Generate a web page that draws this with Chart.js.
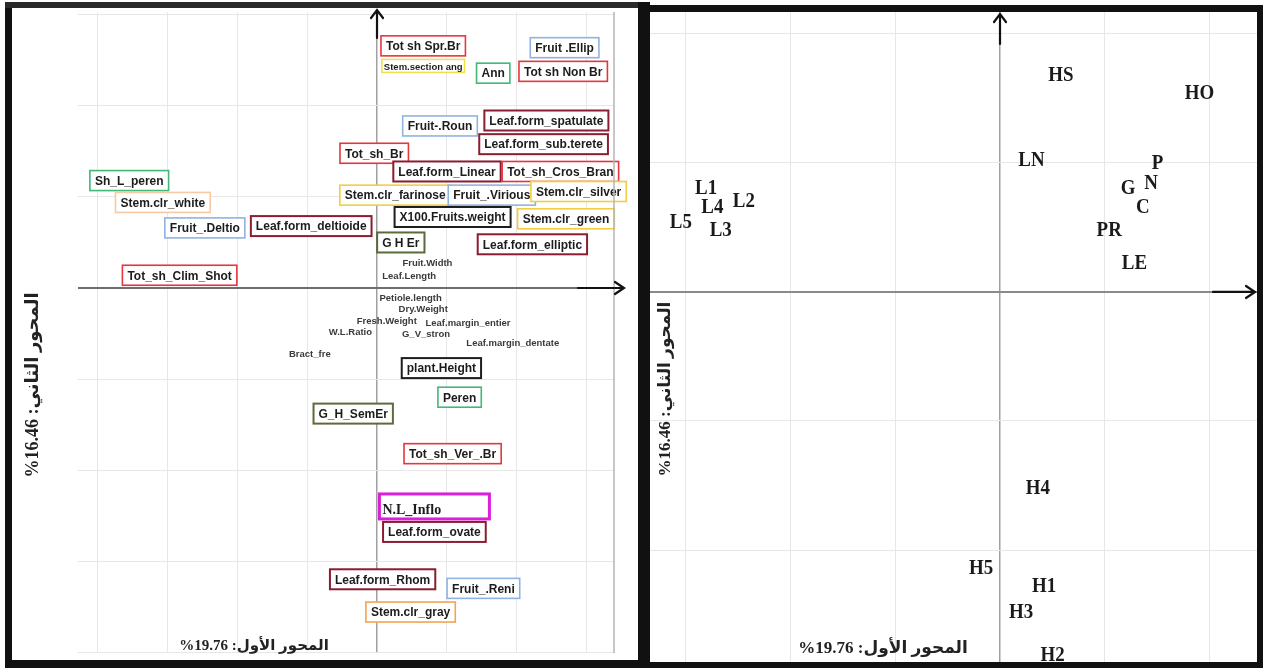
<!DOCTYPE html>
<html>
<head>
<meta charset="utf-8">
<script src="https://cdn.jsdelivr.net/npm/chart.js@4.4.1/dist/chart.umd.min.js"></script>
<style>
  html, body { margin: 0; padding: 0; background: #fff; width: 1264px; height: 670px; overflow: hidden; }
  .panel { position: absolute; }
  .bar { position: absolute; background: #111; }
</style>
</head>
<body>
<div class="panel" style="left:12px; top:8px; width:626px; height:652px;"><canvas id="varsChart"></canvas></div>
<div class="panel" style="left:650px; top:12px; width:607px; height:650px;"><canvas id="indsChart"></canvas></div>

<!-- frames round the two panels -->
<div class="bar" style="left:5px; top:2px; width:7px; height:666px;"></div>
<div class="bar" style="left:5px; top:2px; width:645px; height:6px; background:#2a2a2a;"></div>
<div class="bar" style="left:5px; top:660px; width:645px; height:8px;"></div>
<div class="bar" style="left:638px; top:2px; width:12px; height:666px;"></div>
<div class="bar" style="left:650px; top:5px; width:613px; height:7px;"></div>
<div class="bar" style="left:1257px; top:5px; width:6px; height:663px;"></div>
<div class="bar" style="left:650px; top:662px; width:613px; height:6px;"></div>

<script>
// ---- left panel: variables / modalities ----
const varNames = [
  'Tot sh Spr.Br', 'Stem.section ang', 'Fruit .Ellip', 'Ann', 'Tot sh Non Br',
  'Fruit-.Roun', 'Leaf.form_spatulate', 'Leaf.form_sub.terete', 'Tot_sh_Br', 'Leaf.form_Linear',
  'Tot_sh_Cros_Bran', 'Stem.clr_farinose', 'Fruit_.Virious', 'Stem.clr_silver', 'X100.Fruits.weight',
  'Stem.clr_green', 'Leaf.form_deltioide', 'G H Er', 'Leaf.form_elliptic', 'Sh_L_peren',
  'Stem.clr_white', 'Fruit_.Deltio', 'Tot_sh_Clim_Shot', 'Fruit.Width', 'Leaf.Length',
  'Petiole.length', 'Dry.Weight', 'Fresh.Weight', 'Leaf.margin_entier', 'W.L.Ratio',
  'G_V_stron', 'Leaf.margin_dentate', 'Bract_fre', 'plant.Height', 'Peren',
  'G_H_SemEr', 'Tot_sh_Ver_.Br', 'N.L_Inflo', 'Leaf.form_ovate', 'Leaf.form_Rhom',
  'Fruit_.Reni', 'Stem.clr_gray'
];
const varDim1 = [
  0.33, 0.33, 1.34, 0.83, 1.33,
  0.45, 1.21, 1.19, -0.02, 0.50,
  1.31, 0.13, 0.82, 1.44, 0.54,
  1.35, -0.47, 0.17, 1.11, -1.77,
  -1.53, -1.23, -1.41, 0.36, 0.23,
  0.24, 0.33, 0.07, 0.65, -0.19,
  0.35, 0.97, -0.48, 0.46, 0.59,
  -0.17, 0.54, 0.41, 0.41, 0.04,
  0.76, 0.24
];
const varDim2 = [
  1.33, 1.22, 1.32, 1.18, 1.19,
  0.89, 0.92, 0.79, 0.74, 0.64,
  0.64, 0.51, 0.51, 0.53, 0.39,
  0.38, 0.34, 0.25, 0.24, 0.59,
  0.47, 0.33, 0.07, 0.14, 0.07,
  -0.05, -0.11, -0.18, -0.19, -0.24,
  -0.25, -0.30, -0.36, -0.44, -0.60,
  -0.69, -0.91, -1.20, -1.34, -1.60,
  -1.65, -1.78
];
const varGroup = [
  'branch', 'section', 'fruit', 'life', 'branch',
  'fruit', 'leaf', 'leaf', 'branch', 'leaf',
  'branch', 'stem', 'fruit', 'stem', 'size',
  'stem', 'leaf', 'habit', 'leaf', 'life',
  'stemPeach', 'fruit', 'branch', 'quant', 'quant',
  'quant', 'quant', 'quant', 'quant', 'quant',
  'quant', 'quant', 'quant', 'size', 'life',
  'habit', 'branch', 'inflo', 'leaf', 'leaf',
  'fruit', 'stemOrange'
];

// ---- right panel: individuals ----
const indNames = ['HS', 'HO', 'LN', 'P', 'N', 'G', 'C', 'PR', 'LE', 'L1', 'L4', 'L2', 'L5', 'L3', 'H4', 'H5', 'H1', 'H3', 'H2'];
const indDim1 = [0.29, 0.95, 0.15, 0.75, 0.72, 0.61, 0.68, 0.52, 0.64, -1.40, -1.37, -1.22, -1.52, -1.33, 0.18, -0.09, 0.21, 0.10, 0.25];
const indDim2 = [0.84, 0.77, 0.51, 0.50, 0.42, 0.40, 0.33, 0.24, 0.11, 0.40, 0.33, 0.35, 0.27, 0.24, -0.76, -1.07, -1.14, -1.24, -1.41];

// ---- grid ticks ----
const leftXTicks = [-2, -1.5, -1, -0.5, 0, 0.5, 1, 1.5];
const leftYTicks = [-2, -1.5, -1, -0.5, 0, 0.5, 1, 1.5];
const rightXTicks = [-1.5, -1, -0.5, 0, 0.5, 1];
const rightYTicks = [-1, -0.5, 0, 0.5, 1];

const axisTitle1 = 'المحور الأول: 19.76%';
const axisTitle2 = 'المحور الثاني: 16.46%';

// box styles per group
const boxStyles = {
  branch:     { color: '#e5363d', lw: 1.6 },
  leaf:       { color: '#8c1d30', lw: 2 },
  fruit:      { color: '#8fb3e0', lw: 1.6 },
  life:       { color: '#41b877', lw: 1.6 },
  stem:       { color: '#f2cd43', lw: 1.6 },
  stemPeach:  { color: '#f6c9a2', lw: 1.6 },
  stemOrange: { color: '#f0a552', lw: 1.6 },
  size:       { color: '#1e1e1e', lw: 2 },
  habit:      { color: '#5b6b3c', lw: 2 },
  section:    { color: '#efe04a', lw: 1.5, font: 'bold 9.5px "Liberation Sans"', h: 13, pad: 2 },
  inflo:      { color: '#d91fd9', lw: 3, font: 'bold 14px "Liberation Serif"', h: 25, minW: 110, align: 'left', dy: 4 },
  quant:      { box: false, font: 'bold 9.5px "Liberation Sans"', text: '#3a3a3a' }
};

const boxedLabels = {
  id: 'boxedLabels',
  afterDatasetsDraw(chart) {
    const ctx = chart.ctx;
    const meta = chart.getDatasetMeta(0);
    ctx.save();
    meta.data.forEach((pt, i) => {
      const st = boxStyles[varGroup[i]];
      const text = varNames[i];
      ctx.font = st.font || 'bold 12px "Liberation Sans"';
      const pad = st.pad !== undefined ? st.pad : 5;
      const w = ctx.measureText(text).width;
      const bw = Math.max(w + pad * 2, st.minW || 0);
      const bh = st.h || 20;
      const bx = pt.x - bw / 2, by = pt.y - bh / 2;
      if (st.box !== false) {
        ctx.fillStyle = '#fff';
        ctx.fillRect(bx, by, bw, bh);
        ctx.strokeStyle = st.color;
        ctx.lineWidth = st.lw;
        ctx.strokeRect(bx, by, bw, bh);
      }
      ctx.fillStyle = st.text || '#1c1c1c';
      ctx.textBaseline = 'middle';
      if (st.align === 'left') {
        ctx.textAlign = 'left';
        ctx.fillText(text, bx + 3, pt.y + (st.dy || 0));
      } else {
        ctx.textAlign = 'center';
        ctx.fillText(text, pt.x, pt.y + 1);
      }
    });
    ctx.restore();
  }
};

const serifLabels = {
  id: 'serifLabels',
  afterDatasetsDraw(chart) {
    const ctx = chart.ctx;
    const meta = chart.getDatasetMeta(0);
    ctx.save();
    ctx.font = 'bold 22px "Liberation Serif"';
    ctx.fillStyle = '#1a1a1a';
    ctx.textAlign = 'center';
    ctx.textBaseline = 'middle';
    meta.data.forEach((pt, i) => {
      ctx.save();
      ctx.translate(pt.x, pt.y);
      ctx.scale(0.86, 1);
      ctx.fillText(indNames[i], 0, 0);
      ctx.restore();
    });
    ctx.restore();
  }
};

// arrows at the ends of the two axes, plus the axis titles
const axisDecor = {
  id: 'axisDecor',
  afterDraw(chart, args, opts) {
    const ctx = chart.ctx;
    const a = chart.chartArea;
    const x0 = chart.scales.x.getPixelForValue(0);
    const y0 = chart.scales.y.getPixelForValue(0);
    ctx.save();
    if (opts.rightBorder) {
      ctx.strokeStyle = '#b4b4b4';
      ctx.lineWidth = 1.5;
      ctx.beginPath();
      ctx.moveTo(a.right, a.top);
      ctx.lineTo(a.right, a.bottom);
      ctx.stroke();
    }
    ctx.strokeStyle = '#111';
    ctx.lineWidth = 2.2;
    ctx.lineCap = 'round';
    // up arrow
    const upTip = a.top + opts.upTip, upTail = a.top + opts.upTail;
    ctx.beginPath();
    ctx.moveTo(x0, upTail); ctx.lineTo(x0, upTip);
    ctx.moveTo(x0 - 6, upTip + 8); ctx.lineTo(x0, upTip); ctx.lineTo(x0 + 6, upTip + 8);
    ctx.stroke();
    // right arrow
    const rTip = a.right + opts.rightTip, rTail = a.right + opts.rightTail;
    ctx.beginPath();
    ctx.moveTo(rTail, y0); ctx.lineTo(rTip, y0);
    ctx.moveTo(rTip - 9, y0 - 6); ctx.lineTo(rTip, y0); ctx.lineTo(rTip - 9, y0 + 6);
    ctx.stroke();

    // axis titles (Arabic, right to left)
    ctx.fillStyle = '#222';
    ctx.direction = 'rtl';
    ctx.textAlign = 'center';
    ctx.textBaseline = 'middle';
    ctx.font = opts.xTitleFont;
    ctx.fillText(axisTitle1, opts.xTitle[0], opts.xTitle[1]);
    ctx.font = opts.yTitleFont;
    ctx.translate(opts.yTitle[0], opts.yTitle[1]);
    ctx.rotate(-Math.PI / 2);
    ctx.fillText(axisTitle2, 0, 0);
    ctx.restore();
  }
};

function gridOpts(zeroColor, zeroWidth) {
  return {
    drawTicks: false,
    color: c => (c.tick && c.tick.value === 0) ? zeroColor : '#e7e7e7',
    lineWidth: c => (c.tick && c.tick.value === 0) ? zeroWidth : 1
  };
}

function scaleOpts(min, max, ticks, zeroColor, zeroWidth) {
  return {
    type: 'linear',
    min: min,
    max: max,
    border: { display: false },
    ticks: { display: false },
    grid: gridOpts(zeroColor, zeroWidth),
    afterBuildTicks: axis => { axis.ticks = ticks.map(v => ({ value: v })); }
  };
}

new Chart(document.getElementById('varsChart'), {
  type: 'scatter',
  data: {
    datasets: [{
      data: varNames.map((n, i) => ({ x: varDim1[i], y: varDim2[i] })),
      pointRadius: 0
    }]
  },
  options: {
    responsive: true,
    maintainAspectRatio: false,
    animation: false,
    layout: { padding: { left: 66, right: 24, top: 4, bottom: 7 } },
    scales: {
      x: scaleOpts(-2.136, 1.693, leftXTicks, '#a0a0a0', 1.5),
      y: scaleOpts(-2.005, 1.516, leftYTicks, '#6e6e6e', 2)
    },
    plugins: {
      legend: { display: false },
      tooltip: { enabled: false },
      axisDecor: {
        rightBorder: true,
        upTip: -2, upTail: 26,
        rightTip: 10, rightTail: -36,
        xTitleFont: 'bold 15px "Liberation Serif", "DejaVu Sans"',
        yTitleFont: 'bold 18px "Liberation Serif", "DejaVu Sans"',
        xTitle: [242, 638],
        yTitle: [21, 377]
      }
    }
  },
  plugins: [boxedLabels, axisDecor]
});

new Chart(document.getElementById('indsChart'), {
  type: 'scatter',
  data: {
    datasets: [{
      data: indNames.map((n, i) => ({ x: indDim1[i], y: indDim2[i] })),
      pointRadius: 0
    }]
  },
  options: {
    responsive: true,
    maintainAspectRatio: false,
    animation: false,
    layout: { padding: 0 },
    scales: {
      x: scaleOpts(-1.667, 1.224, rightXTicks, '#a0a0a0', 1.5),
      y: scaleOpts(-1.434, 1.085, rightYTicks, '#8a8a8a', 2)
    },
    plugins: {
      legend: { display: false },
      tooltip: { enabled: false },
      axisDecor: {
        rightBorder: false,
        upTip: 2, upTail: 32,
        rightTip: -2, rightTail: -44,
        xTitleFont: 'bold 17px "Liberation Serif", "DejaVu Sans"',
        yTitleFont: 'bold 17px "Liberation Serif", "DejaVu Sans"',
        xTitle: [233, 637],
        yTitle: [16, 377]
      }
    }
  },
  plugins: [serifLabels, axisDecor]
});
</script>
</body>
</html>
